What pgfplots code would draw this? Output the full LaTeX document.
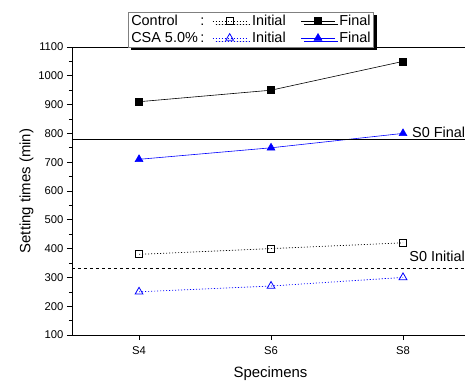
\documentclass[border=0pt]{standalone}
\usepackage{pgfplots}
\pgfplotsset{compat=1.18}
\usepackage{fontspec}
\setmainfont{Liberation Sans}
\usepackage{calc}
\usetikzlibrary{shadows}
\definecolor{pblue}{RGB}{0,0,255}
\begin{document}
\begin{tikzpicture}[x=1bp,y=1bp]
\begin{axis}[
  name=ax,
  scale only axis,
  width=397bp, height=288bp,
  xmin=-0.508, xmax=2.5,
  ymin=100, ymax=1100,
  xtick={0,1,2}, xticklabels={S4,S6,S8},
  ytick={100,200,...,1100},
  minor y tick num=1,
  tick align=outside,
  xtick pos=bottom, ytick pos=left,
  major tick length=5bp, minor tick length=3bp,
  tick style={black, line width=0.6pt},
  axis line style={line width=0.8pt},
  /pgf/number format/assume math mode=true,
  /pgf/number format/1000 sep={},
  tick label style={font=\fontsize{11.3}{13}\selectfont},
  xticklabel style={yshift=-3.5bp},
  xlabel={Specimens}, ylabel={Setting times (min)},
  label style={font=\fontsize{15}{18}\selectfont},
  xlabel style={yshift=-5bp},
  ylabel style={yshift=-2bp},
  clip=false,
  legend columns=3,
  legend cell align=left,
  legend image code/.code={%
    \draw[mark repeat=2,mark phase=2,#1] plot coordinates {(0bp,0bp) (17bp,0bp) (34bp,0bp)};},
  legend style={at={(rel axis cs:0.141,1.122)}, anchor=north west,
    draw=gray, line width=0.6pt, fill=white,
    font=\fontsize{14.5}{16}\selectfont,
    inner sep=1pt, row sep=1bp,
    /tikz/column 2/.style={column sep=6bp},
    /tikz/column 4/.style={column sep=13bp},
    drop shadow={shadow xshift=3bp, shadow yshift=-3bp, fill=black, opacity=1}},
]
\addlegendimage{empty legend}
\addlegendentry{\makebox[\widthof{CSA 5.0\%}][l]{Control}\,:}
\addplot[black, line width=0.7pt, dash pattern=on 1.1bp off 1.9bp, mark=square, mark size=3.5bp, mark options={solid, line width=0.8pt}]
  coordinates {(0,380) (1,400) (2,420)};
\addlegendentry{\hspace{3bp}Initial}
\addplot[black, line width=0.6pt, mark=square*, mark size=3.5bp, mark options={solid}]
  coordinates {(0,910) (1,950) (2,1050)};
\addlegendentry{\hspace{2bp}Final}
\addlegendimage{empty legend}
\addlegendentry{CSA 5.0\%\,:}
\addplot[pblue, line width=0.7pt, dash pattern=on 1.1bp off 1.9bp, mark=triangle, mark size=4.5bp, mark options={solid, line width=0.8pt}]
  coordinates {(0,250) (1,270) (2,300)};
\addlegendentry{\hspace{3bp}Initial}
\addplot[pblue, line width=0.6pt, mark=triangle*, mark size=4.5bp, mark options={solid}]
  coordinates {(0,710) (1,750) (2,800)};
\addlegendentry{\hspace{2bp}Final}
\draw[black, line width=0.6pt] (axis cs:-0.508,780) -- (axis cs:2.5,780);
\draw[black, dashed, line width=0.6pt] (axis cs:-0.508,330) -- (axis cs:2.5,330);
\node[anchor=south west, inner sep=1bp, font=\fontsize{14.5}{17}\selectfont] at (axis cs:2.06,782) {S0 Final};
\node[anchor=south west, inner sep=1bp, font=\fontsize{14.5}{17}\selectfont] at (axis cs:2.04,350) {S0 Initial};
\end{axis}
\pgfresetboundingbox
\path[use as bounding box] ([xshift=-72bp,yshift=-47bp]ax.south west) rectangle ([xshift=465bp-72bp,yshift=335bp]ax.south west);
\end{tikzpicture}
\end{document}
